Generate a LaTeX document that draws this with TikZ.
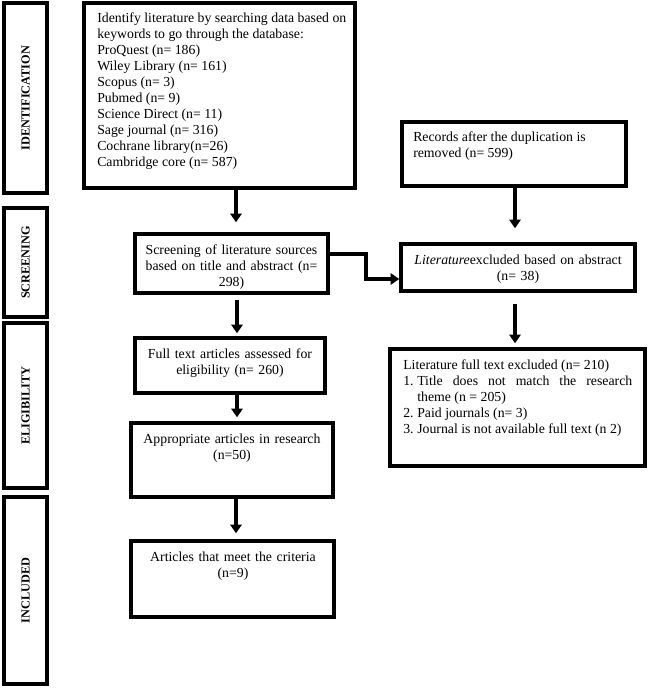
\documentclass[tikz,border=0pt]{standalone}
\usepackage{fontspec}
\setmainfont{Liberation Serif}
\usetikzlibrary{arrows.meta,fit}
\begin{document}
\begin{tikzpicture}[x=0.75pt,y=-0.75pt,
  box/.style={draw=black,line width=2.6pt,inner sep=0pt},
  lbl/.style={font=\fontsize{9.2pt}{11pt}\selectfont\bfseries,rotate=90,inner sep=0pt},
  txt/.style={font=\fontsize{10.35pt}{12pt}\selectfont,inner sep=0pt,text width=260pt},
  ltxt/.style={txt,align=flush left},
  ctxt/.style={txt,align=center},
  arr/.style={line width=2.5pt,-{Triangle[length=6.5pt,width=8.5pt]}}]
\useasboundingbox (0,0) rectangle (647,688);
% stage labels
\node[box,fit={(4,3) (47,193)}] (L1) {};
\node[lbl] (L1t) at (L1.center) {IDENTIFICATION};
\node[box,fit={(4,208) (47,317)}] (L2) {};
\node[lbl] (L2t) at (L2.center) {SCREENING};
\node[box,fit={(4,323) (47,488)}] (L3) {};
\node[lbl] (L3t) at (L3.center) {ELIGIBILITY};
\node[box,fit={(4,497) (47,684)}] (L4) {};
\node[lbl] (L4t) at (L4.center) {INCLUDED};
% boxes
\node[box,fit={(84,3) (355,188)}] (id) {};
\node[box,fit={(402,122) (626,186)}] (rec) {};
\node[box,fit={(135,234) (328,293)}] (scr) {};
\node[box,fit={(401,244) (635,291)}] (lex) {};
\node[box,fit={(135,338) (325,393)}] (ful) {};
\node[box,fit={(390,349) (645,466)}] (lft) {};
\node[box,fit={(131,423) (333,497)}] (app) {};
\node[box,fit={(131,541) (334,617)}] (art) {};
% texts
\node[ltxt,anchor=base west] (idt) at (97,23) {Identify literature by searching data based on\\
keywords to go through the database:\\
ProQuest (n= 186)\\
Wiley Library (n= 161)\\
Scopus (n= 3)\\
Pubmed (n= 9)\\
Science Direct (n= 11)\\
Sage journal (n= 316)\\
Cochrane library(n=26)\\
Cambridge core (n= 587)};
\node[ltxt,anchor=base west] (rect) at (413,142) {Records after the duplication is\\removed (n= 599)};
\node[ctxt,anchor=base] (scrt) at (231.5,254) {Screening of literature sources\\based on title and abstract (n=\\298)};
\node[ctxt,anchor=base] (lext) at (518,264) {\textit{Literature}excluded based on abstract\\(n= 38)};
\node[ctxt,anchor=base] (fult) at (230,358) {Full text articles assessed for\\eligibility (n= 260)};
\node[ltxt,anchor=base west] (lftt) at (403,369) {Literature full text excluded (n= 210)\\
\makebox[10.5pt][l]{1.}\makebox[161.25pt][s]{Title does not match the research}\\
\hspace*{10.5pt}theme (n = 205)\\
\makebox[10.5pt][l]{2.}Paid journals (n= 3)\\
\makebox[10.5pt][l]{3.}Journal is not available full text (n 2)};
\node[ctxt,anchor=base] (appt) at (232,443) {Appropriate articles in research\\(n=50)};
\node[ctxt,anchor=base] (artt) at (233,561) {Articles that meet the criteria\\(n=9)};
% arrows
\draw[arr,shorten >=7.5pt] (236,0 |- id.south) -- (236,0 |- scr.north);
\draw[arr,shorten <=3.75pt,shorten >=2.25pt] (237,0 |- scr.south) -- (237,0 |- ful.north);
\draw[arr,shorten >=3pt] (237,0 |- ful.south) -- (237,0 |- app.north);
\draw[arr,shorten >=4.5pt] (236,0 |- app.south) -- (236,0 |- art.north);
\draw[arr,shorten >=10.5pt] (515,0 |- rec.south) -- (515,0 |- lex.north);
\draw[arr,shorten <=8.25pt,shorten >=3pt] (515,0 |- lex.south) -- (515,0 |- lft.north);
\coordinate (e1) at (366,254);
\coordinate (e2) at (366,279);
\draw[arr,line join=miter] (scr.east |- e1) -- (e1) -- (e2) -- (lex.west |- e2);
\end{tikzpicture}
\end{document}
